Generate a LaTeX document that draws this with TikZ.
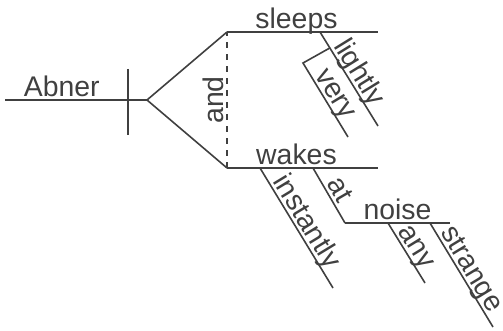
\documentclass[tikz,border=0pt]{standalone}
\usepackage{fontspec}
\setmainfont{Liberation Sans}
\usetikzlibrary{positioning}
\begin{document}
\begin{tikzpicture}[x=0.5pt,y=-0.5pt,
		line/.style={draw=black!75, line width=0.8pt},
		word/.style={text=black!75, font=\fontsize{14.2}{16}\selectfont, inner sep=1.5pt, text depth=0pt}]
				\useasboundingbox (0,0) rectangle (503,331);
				\coordinate (0) at (5,100);
				\coordinate (1) at (147,100);
				\coordinate (2) at (128,69);
				\coordinate (3) at (128,135);
				\coordinate (4) at (227,32);
				\coordinate (5) at (378,32);
				\coordinate (6) at (227,168);
				\coordinate (7) at (378,168);
				\coordinate (8) at (320,32);
				\coordinate (9) at (378,126);
				\coordinate (10) at (329.8,48);
				\coordinate (11) at (303,63);
				\coordinate (12) at (348,137);
				\coordinate (13) at (260,168);
				\coordinate (14) at (333,288);
				\coordinate (15) at (313,168);
				\coordinate (16) at (345,223);
				\coordinate (17) at (450,223);
				\coordinate (18) at (388,223);
				\coordinate (19) at (425,283);
				\coordinate (20) at (430,223);
				\coordinate (21) at (493,327);
				
				\draw[line] (0) -- (1) node[word, pos=0.4, above] {Abner};
				\draw[line] (2) -- (3);
				\draw[line] (4) -- (1) -- (6);
				\draw[line, dashed] (6) -- (4) node[word, midway, sloped, above] {and};
				\draw[line] (4) -- (5) node[word, pos=0.46, above] {sleeps};
				\draw[line] (6) -- (7) node[word, pos=0.46, above] {wakes};
				\draw[line] (8) -- (9) node[word, midway, sloped, above] {lightly};
				\draw[line] (10) -- (11) -- (12) node[word, midway, sloped, above] {very};
				\draw[line] (13) -- (14) node[word, midway, sloped, above] {instantly};
				\draw[line] (15) -- (16) node[word, midway, sloped, above] {at};
				\draw[line] (16) -- (17) node[word, midway, above] {noise};
				\draw[line] (18) -- (19) node[word, midway, sloped, above] {any};
				\draw[line] (20) -- (21) node[word, midway, sloped, above] {strange};
			\end{tikzpicture}
\end{document}
